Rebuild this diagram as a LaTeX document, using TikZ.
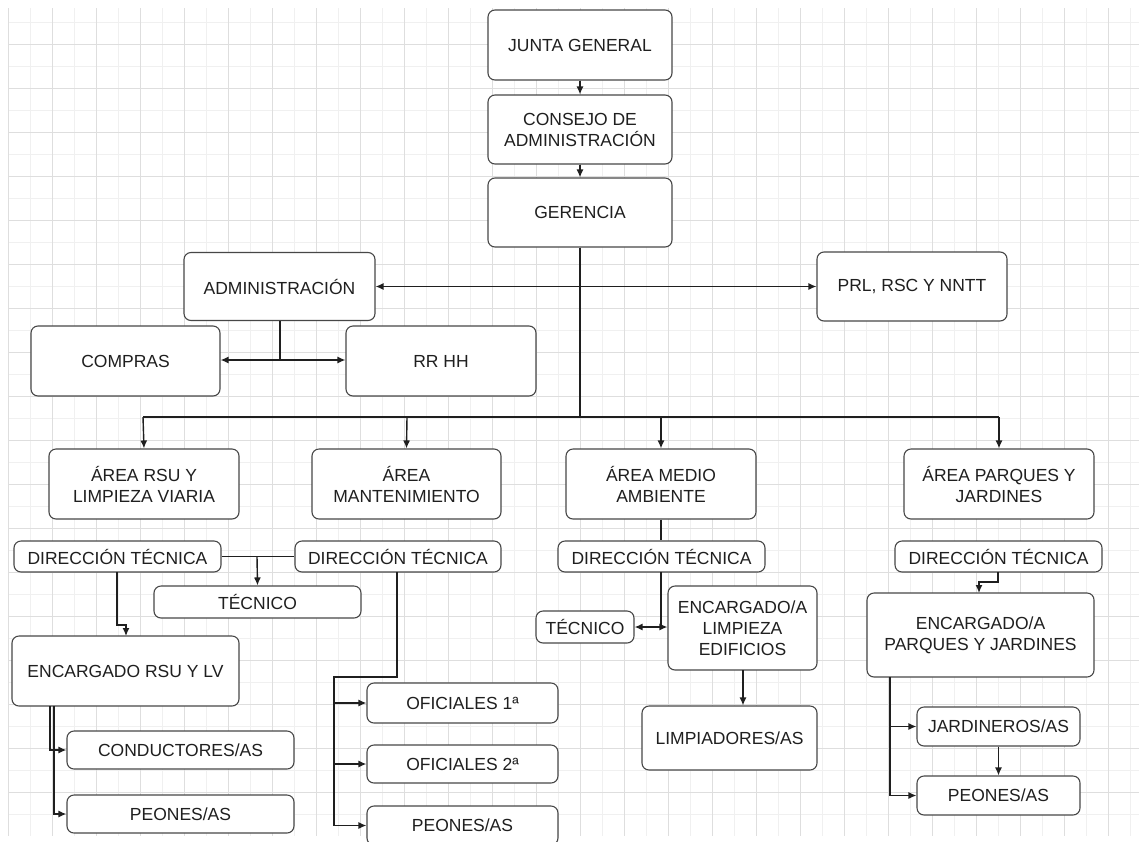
\documentclass[tikz,border=0pt]{standalone}
\usepackage{fontspec}
\setmainfont{Liberation Sans}
\usetikzlibrary{arrows.meta}
\begin{document}
\begin{tikzpicture}[x=1pt,y=-1pt,
  box/.style={draw=black!72, line width=1.1pt, rounded corners=7pt, fill=white, inner sep=0pt, align=center, font=\fontsize{17.5}{21}\selectfont, text=black!88},
  conn/.style={draw=black!88, line width=1.4pt},
  arr/.style={conn, -{Latex[length=8pt,width=7pt]}},
  minorg/.style={draw=black!6, line width=0.8pt},
  majorg/.style={draw=black!13, line width=1pt}]
\useasboundingbox (0,0) rectangle (1139,841);
\clip (0,0) rectangle (1139,841);
\fill[white] (0,0) rectangle (1139,841);
% grid
\foreach \i in {0,...,25} {
  \draw[minorg] ({30+44*\i},8) -- ({30+44*\i},836);
}
\foreach \i in {0,...,18} {
  \draw[minorg] (8,{22+44*\i}) -- (1139,{22+44*\i});
}
\foreach \i in {0,...,25} {
  \draw[majorg] ({8+44*\i},8) -- ({8+44*\i},836);
}
\foreach \i in {1,...,18} {
  \draw[majorg] (8,{44*\i}) -- (1139,{44*\i});
}

% top
\node[box, minimum width=184pt, minimum height=70pt] (junta) at (580,45) {JUNTA GENERAL};
\node[box, minimum width=184pt, minimum height=69pt] (consejo) at (580,129.5) {CONSEJO DE\\ADMINISTRACIÓN};
\node[box, minimum width=184pt, minimum height=69pt] (gerencia) at (580,212.5) {GERENCIA};
\node[box, minimum width=191pt, minimum height=68pt] (admin) at (279.5,286.5) {ADMINISTRACIÓN};
\node[box, minimum width=190pt, minimum height=69pt] (prl) at (912,286.5) {PRL, RSC Y NNTT};
\node[box, minimum width=189pt, minimum height=70pt] (compras) at (125.5,361) {COMPRAS};
\node[box, minimum width=190pt, minimum height=70pt] (rrhh) at (441,361) {RR HH};

% areas
\node[box, minimum width=190pt, minimum height=70pt] (arsu) at (144,484) {ÁREA RSU Y\\LIMPIEZA VIARIA};
\node[box, minimum width=189pt, minimum height=70pt] (amant) at (406.5,484) {ÁREA\\MANTENIMIENTO};
\node[box, minimum width=190pt, minimum height=70pt] (ama) at (661,484) {ÁREA MEDIO\\AMBIENTE};
\node[box, minimum width=190pt, minimum height=70pt] (apj) at (999,484) {ÁREA PARQUES Y\\JARDINES};

% RSU
\node[box, minimum width=207pt, minimum height=31pt] (dta) at (117.5,556.5) {DIRECCIÓN TÉCNICA};
\node[box, minimum width=206pt, minimum height=31pt] (dtb) at (398,556.5) {DIRECCIÓN TÉCNICA};
\node[box, minimum width=207pt, minimum height=32pt] (teca) at (257.5,602) {TÉCNICO};
\node[box, minimum width=227pt, minimum height=70pt] (enca) at (125.5,671) {ENCARGADO RSU Y LV};
\node[box, minimum width=227pt, minimum height=38pt] (cond) at (180.5,750) {CONDUCTORES/AS};
\node[box, minimum width=227pt, minimum height=38pt] (peoa) at (180.5,814) {PEONES/AS};

% Mantenimiento
\node[box, minimum width=191pt, minimum height=40pt] (ofa) at (462.5,703) {OFICIALES 1ª};
\node[box, minimum width=191pt, minimum height=38pt] (ofb) at (462.5,764) {OFICIALES 2ª};
\node[box, minimum width=191pt, minimum height=39pt] (peob) at (462.5,825.5) {PEONES/AS};

% Medio ambiente
\node[box, minimum width=207pt, minimum height=31pt] (dtc) at (661.5,556.5) {DIRECCIÓN TÉCNICA};
\node[box, minimum width=98pt, minimum height=32pt] (tecc) at (585,627) {TÉCNICO};
\node[box, minimum width=149pt, minimum height=84pt] (encc) at (742.5,628) {ENCARGADO/A\\LIMPIEZA\\EDIFICIOS};
\node[box, minimum width=175pt, minimum height=64pt] (limp) at (729.5,738) {LIMPIADORES/AS};

% Parques
\node[box, minimum width=207pt, minimum height=31pt] (dtd) at (998.5,556.5) {DIRECCIÓN TÉCNICA};
\node[box, minimum width=227pt, minimum height=84pt] (encd) at (980.5,635) {ENCARGADO/A\\PARQUES Y JARDINES};
\node[box, minimum width=163pt, minimum height=39pt] (jard) at (998.5,726.5) {JARDINEROS/AS};
\node[box, minimum width=163pt, minimum height=39pt] (peod) at (998.5,795.5) {PEONES/AS};

% coordinates
\coordinate (gmid) at (580,286.5);
\coordinate (bus) at (580,417);
\coordinate (busl) at (143,417);
\coordinate (busr) at (999,417);
\coordinate (amid) at (280,360);

% top connectors
\draw[arr] (junta.south) -- (consejo.north);
\draw[arr] (consejo.south) -- (gerencia.north);
\draw[conn] (gerencia.south) -- (bus);
\draw[arr] (gmid) -- (admin.east);
\draw[arr] (gmid) -- (prl.west);
\draw[conn] (busl) -- (busr);
\draw[arr] (busl) -- (arsu.north);
\draw[arr] (407,417) -- (amant.north);
\draw[arr] (661,417) -- (ama.north);
\draw[arr] (busr) -- (apj.north);
\draw[conn] (admin.south -| amid) -- (amid);
\draw[arr] (amid) -- (compras.east |- amid);
\draw[arr] (amid) -- (rrhh.west |- amid);

% RSU / Mantenimiento
\draw[conn] (dta.east) -- (dtb.west);
\draw[arr] (257,556.5) -- (teca.north);
\draw[arr] (117,572) |- (126,625) -- (126,636);
\draw[arr] (50,706) |- (cond.west);
\draw[arr] (54,706) |- (peoa.west);
\draw[conn] (397,572) |- (334,677) -- (334,825.5);
\draw[arr] (334,703) -- (ofa.west);
\draw[arr] (334,764) -- (ofb.west);
\draw[arr] (334,825.5) -- (peob.west);

% Medio ambiente
\draw[conn] (ama.south) -- (dtc.north -| ama.south);
\draw[conn] (661,572) -- (661,627);
\draw[arr] (661,627) -- (tecc.east);
\draw[arr] (661,627) -- (encc.west |- tecc.east);
\draw[arr] (743,670) -- (limp.north -| 743,670);

% Parques
\draw[arr] (998,572) |- (979,582) -- (979,593);
\draw[arr] (890,677) |- (jard.west);
\draw[arr] (890,677) |- (peod.west);
\draw[arr] (jard.south) -- (peod.north);
\end{tikzpicture}
\end{document}
